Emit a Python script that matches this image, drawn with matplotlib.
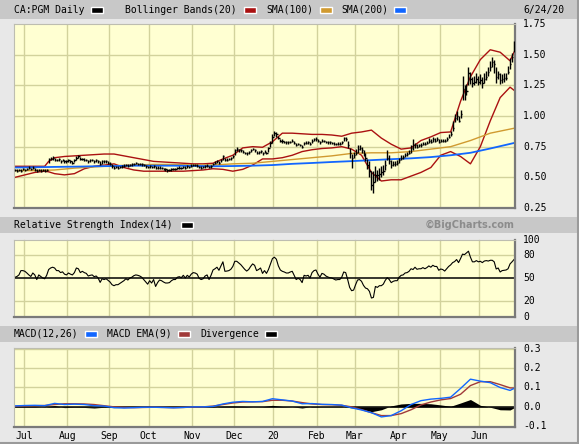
import matplotlib
matplotlib.use('Agg')
import matplotlib.pyplot as plt
import numpy as np
import pandas as pd
from matplotlib.patches import Rectangle
from matplotlib.lines import Line2D
import matplotlib.transforms as mtransforms

# ---------------- data ----------------
holidays = ['2019-07-01', '2019-08-05', '2019-09-02', '2019-10-14', '2019-12-25',
            '2019-12-26', '2020-01-01', '2020-02-17', '2020-04-10', '2020-05-18']
start_date = '2019-06-24'
end_date = '2020-06-24'

close = [
    0.56, 0.55, 0.56, 0.55, 0.57, 0.56, 0.57, 0.58, 0.57, 0.58,
    0.56, 0.55, 0.56, 0.55, 0.56, 0.55, 0.56, 0.65, 0.65, 0.66,
    0.64, 0.64, 0.65, 0.63, 0.64, 0.63, 0.63, 0.64, 0.63, 0.62,
    0.64, 0.66, 0.67, 0.65, 0.65, 0.64, 0.64, 0.63, 0.64, 0.64,
    0.63, 0.64, 0.63, 0.61, 0.63, 0.63, 0.63, 0.62, 0.61, 0.59,
    0.58, 0.585, 0.58, 0.585, 0.59, 0.595, 0.60, 0.595, 0.60, 0.605,
    0.61, 0.615, 0.61, 0.61, 0.605, 0.60, 0.59, 0.585, 0.59, 0.585,
    0.59, 0.575, 0.58, 0.58, 0.575, 0.57, 0.565, 0.56, 0.56, 0.565,
    0.57, 0.57, 0.575, 0.58, 0.575, 0.585, 0.58, 0.59, 0.585, 0.595,
    0.60, 0.60, 0.595, 0.585, 0.58, 0.585, 0.59, 0.595, 0.585, 0.59,
    0.61, 0.62, 0.63, 0.62, 0.64, 0.67, 0.645, 0.645, 0.65, 0.655,
    0.67, 0.72, 0.73, 0.725, 0.72, 0.71, 0.70, 0.695, 0.705, 0.72,
    0.73, 0.725, 0.70, 0.705, 0.715, 0.695, 0.71, 0.70, 0.74, 0.78,
    0.83, 0.86, 0.85, 0.82, 0.80, 0.795, 0.79, 0.785, 0.785, 0.79,
    0.795, 0.78, 0.765, 0.77, 0.765, 0.75, 0.78, 0.78, 0.785, 0.775,
    0.80, 0.81, 0.815, 0.80, 0.785, 0.80, 0.795, 0.79, 0.785, 0.785,
    0.78, 0.775, 0.77, 0.775, 0.775, 0.785, 0.82, 0.815, 0.76, 0.70,
    0.66, 0.68, 0.70, 0.73, 0.74, 0.72, 0.69, 0.66, 0.60, 0.55,
    0.44, 0.46, 0.52, 0.52, 0.53, 0.54, 0.55, 0.60, 0.66, 0.63,
    0.60, 0.61, 0.61, 0.62, 0.64, 0.66, 0.665, 0.68, 0.69, 0.70,
    0.74, 0.76, 0.76, 0.75, 0.76, 0.765, 0.775, 0.77, 0.78, 0.80,
    0.79, 0.81, 0.80, 0.81, 0.79, 0.80, 0.80, 0.795, 0.81, 0.83,
    0.85, 0.90, 0.98, 1.00, 0.96, 1.02, 1.22, 1.18, 1.20, 1.35,
    1.30, 1.27, 1.28, 1.30, 1.28, 1.29, 1.27, 1.30, 1.32, 1.36,
    1.40, 1.44, 1.42, 1.32, 1.34, 1.29, 1.30, 1.31, 1.31, 1.36,
    1.42, 1.48, 1.58]

high = [
    0.57, 0.565, 0.57, 0.565, 0.58, 0.57, 0.58, 0.59, 0.58, 0.59,
    0.575, 0.565, 0.57, 0.565, 0.57, 0.565, 0.57, 0.66, 0.665, 0.67,
    0.655, 0.65, 0.66, 0.645, 0.65, 0.645, 0.64, 0.65, 0.645, 0.635,
    0.65, 0.675, 0.685, 0.665, 0.66, 0.655, 0.65, 0.645, 0.65, 0.65,
    0.645, 0.65, 0.645, 0.63, 0.64, 0.64, 0.64, 0.635, 0.625, 0.61,
    0.59, 0.595, 0.59, 0.595, 0.60, 0.605, 0.61, 0.605, 0.61, 0.615,
    0.62, 0.625, 0.62, 0.62, 0.615, 0.61, 0.60, 0.595, 0.60, 0.595,
    0.60, 0.59, 0.59, 0.59, 0.585, 0.58, 0.575, 0.57, 0.57, 0.575,
    0.58, 0.58, 0.585, 0.59, 0.585, 0.595, 0.59, 0.60, 0.595, 0.605,
    0.61, 0.61, 0.605, 0.595, 0.59, 0.595, 0.60, 0.605, 0.595, 0.60,
    0.62, 0.63, 0.64, 0.635, 0.65, 0.68, 0.66, 0.655, 0.66, 0.665,
    0.68, 0.735, 0.745, 0.735, 0.73, 0.72, 0.71, 0.705, 0.715, 0.73,
    0.74, 0.735, 0.715, 0.715, 0.725, 0.71, 0.72, 0.71, 0.75, 0.80,
    0.85, 0.88, 0.87, 0.84, 0.815, 0.81, 0.80, 0.80, 0.795, 0.80,
    0.81, 0.795, 0.78, 0.78, 0.775, 0.765, 0.79, 0.795, 0.80, 0.79,
    0.81, 0.82, 0.825, 0.815, 0.80, 0.81, 0.805, 0.80, 0.795, 0.795,
    0.79, 0.785, 0.78, 0.785, 0.785, 0.80, 0.83, 0.83, 0.80, 0.74,
    0.69, 0.71, 0.73, 0.76, 0.76, 0.75, 0.72, 0.70, 0.65, 0.63,
    0.55, 0.55, 0.59, 0.56, 0.58, 0.59, 0.60, 0.64, 0.72, 0.68,
    0.64, 0.63, 0.63, 0.64, 0.66, 0.68, 0.685, 0.70, 0.705, 0.72,
    0.76, 0.81, 0.78, 0.77, 0.775, 0.78, 0.79, 0.79, 0.80, 0.82,
    0.81, 0.83, 0.82, 0.83, 0.81, 0.815, 0.815, 0.81, 0.83, 0.85,
    0.88, 0.96, 1.02, 1.04, 1.00, 1.05, 1.33, 1.25, 1.26, 1.40,
    1.36, 1.32, 1.33, 1.35, 1.33, 1.34, 1.32, 1.35, 1.37, 1.40,
    1.45, 1.48, 1.46, 1.40, 1.37, 1.35, 1.34, 1.35, 1.35, 1.41,
    1.47, 1.51, 1.61]

low = [
    0.55, 0.54, 0.55, 0.54, 0.56, 0.55, 0.56, 0.57, 0.56, 0.565,
    0.55, 0.54, 0.55, 0.54, 0.55, 0.54, 0.55, 0.62, 0.64, 0.645,
    0.63, 0.63, 0.635, 0.62, 0.63, 0.62, 0.62, 0.625, 0.62, 0.61,
    0.625, 0.645, 0.655, 0.64, 0.64, 0.63, 0.63, 0.62, 0.625, 0.63,
    0.62, 0.625, 0.62, 0.60, 0.61, 0.62, 0.62, 0.61, 0.60, 0.58,
    0.57, 0.575, 0.57, 0.575, 0.58, 0.585, 0.59, 0.585, 0.59, 0.595,
    0.60, 0.605, 0.60, 0.60, 0.595, 0.59, 0.58, 0.575, 0.58, 0.575,
    0.58, 0.565, 0.57, 0.57, 0.565, 0.56, 0.555, 0.545, 0.55, 0.555,
    0.56, 0.56, 0.565, 0.57, 0.565, 0.575, 0.57, 0.58, 0.575, 0.585,
    0.59, 0.59, 0.585, 0.575, 0.57, 0.575, 0.58, 0.585, 0.575, 0.58,
    0.60, 0.61, 0.62, 0.61, 0.625, 0.645, 0.635, 0.635, 0.64, 0.645,
    0.655, 0.68, 0.715, 0.71, 0.705, 0.70, 0.69, 0.685, 0.69, 0.705,
    0.72, 0.71, 0.69, 0.69, 0.70, 0.685, 0.695, 0.69, 0.71, 0.75,
    0.78, 0.84, 0.83, 0.81, 0.79, 0.78, 0.78, 0.775, 0.775, 0.78,
    0.785, 0.77, 0.755, 0.76, 0.755, 0.74, 0.76, 0.77, 0.775, 0.765,
    0.78, 0.795, 0.80, 0.79, 0.775, 0.785, 0.785, 0.78, 0.775, 0.775,
    0.77, 0.765, 0.76, 0.765, 0.765, 0.775, 0.80, 0.80, 0.74, 0.66,
    0.58, 0.66, 0.68, 0.70, 0.72, 0.70, 0.67, 0.63, 0.57, 0.50,
    0.40, 0.375, 0.46, 0.47, 0.48, 0.50, 0.52, 0.56, 0.64, 0.61,
    0.58, 0.59, 0.59, 0.60, 0.62, 0.64, 0.65, 0.665, 0.675, 0.69,
    0.70, 0.72, 0.74, 0.74, 0.745, 0.75, 0.76, 0.76, 0.77, 0.78,
    0.78, 0.79, 0.79, 0.80, 0.78, 0.79, 0.79, 0.785, 0.80, 0.82,
    0.84, 0.88, 0.95, 0.97, 0.95, 0.98, 1.13, 1.13, 1.17, 1.25,
    1.26, 1.24, 1.25, 1.27, 1.25, 1.26, 1.23, 1.27, 1.29, 1.33,
    1.37, 1.40, 1.35, 1.27, 1.30, 1.26, 1.27, 1.28, 1.29, 1.34,
    1.38, 1.44, 1.52]

# Bollinger bands (20), sampled by trading-day number
bb_day = [0, 5, 10, 15, 17, 20, 25, 30, 35, 40, 45, 50, 55, 60, 65, 70, 75, 80, 85, 90,
          95, 100, 105, 110, 115, 120, 125, 130, 135, 140, 145, 150, 155, 160, 165, 170,
          175, 180, 185, 190, 195, 200, 205, 210, 215, 220, 225, 230, 235, 240, 245, 250, 252]
bb_upper = [0.59, 0.59, 0.59, 0.59, 0.63, 0.66, 0.67, 0.675, 0.68, 0.685, 0.69, 0.69, 0.675,
            0.66, 0.645, 0.63, 0.625, 0.62, 0.615, 0.61, 0.61, 0.615, 0.65, 0.68, 0.74, 0.75,
            0.745, 0.79, 0.86, 0.86, 0.855, 0.85, 0.85, 0.845, 0.835, 0.86, 0.87, 0.885, 0.82,
            0.77, 0.73, 0.74, 0.80, 0.83, 0.865, 0.87, 1.12, 1.32, 1.46, 1.54, 1.52, 1.45, 1.52]
bb_lower = [0.50, 0.52, 0.54, 0.55, 0.545, 0.53, 0.52, 0.53, 0.57, 0.59, 0.60, 0.61, 0.58,
            0.56, 0.55, 0.55, 0.55, 0.55, 0.55, 0.555, 0.56, 0.57, 0.565, 0.55, 0.565, 0.60,
            0.65, 0.65, 0.66, 0.68, 0.71, 0.725, 0.735, 0.74, 0.75, 0.73, 0.68, 0.54, 0.47,
            0.48, 0.48, 0.51, 0.54, 0.58, 0.68, 0.71, 0.67, 0.61, 0.75, 0.96, 1.15, 1.235, 1.21]

# Simple moving averages
sma_day = [0, 10, 20, 30, 40, 50, 60, 70, 80, 90, 100, 110, 120, 130, 140, 150, 160, 170,
           180, 190, 200, 210, 220, 230, 240, 252]
sma100 = [0.555, 0.555, 0.56, 0.575, 0.585, 0.595, 0.60, 0.605, 0.605, 0.60, 0.60, 0.61,
          0.615, 0.63, 0.645, 0.66, 0.675, 0.695, 0.70, 0.70, 0.71, 0.73, 0.75, 0.80, 0.86, 0.90]
sma200 = [0.58, 0.582, 0.585, 0.587, 0.59, 0.592, 0.595, 0.595, 0.595, 0.593, 0.59, 0.592,
          0.595, 0.60, 0.61, 0.617, 0.625, 0.632, 0.64, 0.648, 0.655, 0.665, 0.68, 0.70, 0.735, 0.78]

# RSI(14), daily
rsi = [
    50.9, 52, 54, 59.6, 59.6, 58.7, 56.5, 54, 52, 56.5,
    54, 48, 54, 52, 50, 49, 53.5, 61, 63, 64,
    63, 59.6, 59.6, 57, 58, 55, 54, 56.5, 55, 54,
    57, 63, 62, 57, 58.7, 57, 56, 52.6, 53.5, 54,
    51.7, 52.6, 50, 44.3, 49, 48, 49, 47, 44.8, 41.3,
    40, 41.3, 41.3, 43, 44.8, 46.5, 49, 47.4, 50, 51,
    53, 54, 53.5, 52.6, 51, 48, 44.8, 42, 46.5, 43.5,
    48, 39, 44, 47.4, 46.5, 44.8, 43.5, 43.5, 44, 46.5,
    48, 48, 51, 51.7, 50.4, 53.5, 50, 53.5, 51.3, 55,
    57, 56.5, 55, 49.6, 48, 49, 52.6, 54, 48, 53.5,
    60.4, 62, 64, 60, 65.7, 71, 58.7, 59, 59.6, 61.3,
    65, 71.7, 71.7, 69.6, 67.4, 64.4, 61.3, 59, 61, 65,
    68.3, 66.5, 59.6, 61, 63, 56, 59.6, 56, 61, 68.3,
    75.2, 77, 74.4, 65.7, 60.4, 58.7, 57.8, 56.5, 56.5, 57.8,
    58.7, 53.5, 48, 49.6, 48, 44, 53.5, 52.6, 53.5, 50,
    57, 59.6, 60.4, 55, 51, 56, 55, 52.6, 51.3, 50.4,
    50, 48.7, 47.4, 48, 48, 51, 57.8, 57, 48, 37.8,
    33.5, 34.3, 41.3, 47.4, 48, 45.7, 40.4, 37, 36, 32.6,
    24, 24.8, 39, 37.8, 40, 40, 42, 47, 50.4, 48,
    44, 45.7, 46.5, 46.5, 51, 53.5, 54, 56.5, 57, 58.7,
    62, 61, 64, 61.3, 62, 62, 63.5, 62, 63.5, 65.7,
    64, 66.5, 65, 65, 60, 61.7, 61, 59, 62, 65,
    67, 70, 71.3, 74, 70, 75.2, 81, 80.4, 82.6, 84.8,
    77, 71, 71, 72.6, 71, 71.7, 70, 72, 72.6, 72,
    73, 73, 71, 61.7, 63, 57.8, 59.6, 60, 60.4, 62,
    68.3, 71, 74]

# MACD(12,26), EMA(9) and divergence, sampled by trading-day number
macd_day = [0, 5, 10, 15, 20, 25, 30, 35, 40, 45, 50, 55, 60, 65, 70, 75, 80, 85, 90, 95,
            100, 105, 110, 115, 120, 125, 130, 135, 140, 145, 150, 155, 160, 165, 170, 175,
            180, 185, 190, 195, 200, 205, 210, 215, 220, 225, 230, 235, 240, 245, 250, 252]
macd = [0.005, 0.007, 0.008, 0.006, 0.018, 0.012, 0.014, 0.012, 0.006, 0.004, -0.004, -0.006,
        -0.004, -0.002, -0.002, -0.003, -0.005, -0.003, 0.000, 0.000, 0.002, 0.015, 0.024,
        0.028, 0.026, 0.028, 0.042, 0.036, 0.030, 0.016, 0.017, 0.013, 0.012, 0.009, -0.005,
        -0.016, -0.030, -0.052, -0.045, -0.020, 0.012, 0.032, 0.040, 0.044, 0.050, 0.095,
        0.143, 0.133, 0.125, 0.100, 0.085, 0.095]
macd_ema = [0.003, 0.005, 0.006, 0.007, 0.012, 0.016, 0.016, 0.015, 0.012, 0.006, 0.000,
            -0.003, -0.004, -0.003, -0.002, -0.003, -0.004, -0.003, -0.001, 0.000, 0.004,
            0.012, 0.020, 0.025, 0.026, 0.027, 0.034, 0.034, 0.030, 0.022, 0.015, 0.012,
            0.011, 0.008, 0.000, -0.014, -0.030, -0.045, -0.045, -0.035, -0.015, 0.010,
            0.025, 0.036, 0.043, 0.065, 0.110, 0.130, 0.130, 0.115, 0.098, 0.097]
divergence = [0.002, 0.002, 0.002, -0.001, 0.006, -0.004, -0.002, -0.003, -0.006, -0.002,
              -0.004, -0.003, 0.000, 0.001, 0.000, 0.000, -0.001, 0.000, 0.001, 0.000, -0.002,
              0.003, 0.004, 0.003, 0.000, 0.001, 0.008, 0.002, 0.000, -0.006, 0.002, 0.001,
              0.001, 0.001, -0.005, -0.012, -0.025, -0.015, 0.005, 0.015, 0.018, 0.018, 0.016,
              0.010, 0.003, 0.020, 0.038, 0.008, -0.002, -0.015, -0.016, -0.005]

month_names = {7: 'Jul', 8: 'Aug', 9: 'Sep', 10: 'Oct', 11: 'Nov', 12: 'Dec', 1: '20',
               2: 'Feb', 3: 'Mar', 4: 'Apr', 5: 'May', 6: 'Jun'}
price_ticks = [0.25, 0.50, 0.75, 1.00, 1.25, 1.50, 1.75]
rsi_ticks = [0, 20, 50, 80, 100]
macd_ticks = [-0.1, 0.0, 0.1, 0.2, 0.3]

# ---------------- styling ----------------
W, H = 579, 444
BG = '#e8e8e8'
HEAD = '#c8c8c8'
PLOTBG = '#ffffd2'
GRID = '#d2d29c'
RED = '#aa1111'
ORANGE = '#d09a30'
BLUE = '#1166ff'
EMA_RED = '#a03a3a'
MONO = 'DejaVu Sans Mono'

dates = pd.bdate_range(start_date, end_date, freq='C', holidays=holidays)
n = len(dates)
days = np.arange(n)
month_starts = [i for i in range(1, n) if dates[i].month != dates[i - 1].month]

fig = plt.figure(figsize=(W / 100, H / 100), dpi=100, facecolor=BG)


def fax(x0, y0, x1, y1):
    return [x0 / W, 1 - y1 / H, (x1 - x0) / W, (y1 - y0) / H]


def band(y0, y1):
    fig.patches.append(Rectangle((0, 1 - y1 / H), 577 / W, (y1 - y0) / H,
                                 transform=fig.transFigure, facecolor=HEAD,
                                 edgecolor='none', zorder=0))


def swatch(x, y, color):
    fig.patches.append(Rectangle((x / W, 1 - (y + 3) / H), 12 / W, 6 / H,
                                 transform=fig.transFigure, facecolor=color,
                                 edgecolor='white', linewidth=1.0, zorder=3))


def ftext(x, y, s, **kw):
    kw.setdefault('family', MONO)
    kw.setdefault('fontsize', 7)
    kw.setdefault('va', 'center')
    fig.text(x / W, 1 - y / H, s, **kw)


band(0, 19)
band(217, 233)
band(326, 342)

# outer border
fig.lines.append(Line2D([577.5 / W, 577.5 / W], [0, 1], transform=fig.transFigure,
                        color='#9a9a9a', lw=1.5))
fig.lines.append(Line2D([0, 1], [1 - 442.5 / H, 1 - 442.5 / H], transform=fig.transFigure,
                        color='#9a9a9a', lw=1.5))

# headers
ftext(14, 10, 'CA:PGM Daily')
swatch(91, 10, 'black')
ftext(125, 10, 'Bollinger Bands(20)')
swatch(244, 10, RED)
ftext(266, 10, 'SMA(100)')
swatch(320, 10, ORANGE)
ftext(341, 10, 'SMA(200)')
swatch(394, 10, BLUE)
ftext(523, 10, '6/24/20')

ftext(14, 225, 'Relative Strength Index(14)')
swatch(181, 225, 'black')
fig.text(515 / W, 1 - 225 / H, '\u00a9BigCharts.com', family='DejaVu Sans',
         fontsize=7, fontweight='bold', color='#8c8c8c', ha='right', va='center')

ftext(14, 334, 'MACD(12,26)')
swatch(85, 334, BLUE)
ftext(107, 334, 'MACD EMA(9)')
swatch(178, 334, EMA_RED)
ftext(200, 334, 'Divergence')
swatch(265, 334, 'black')


def setup(ax, ylim, grid_y):
    ax.set_facecolor(PLOTBG)
    ax.set_xlim(-0.5, n - 0.5)
    ax.set_ylim(*ylim)
    ax.set_xticks([])
    ax.set_yticks([])
    for m in month_starts:
        ax.axvline(m - 0.5, color=GRID, lw=1.0, zorder=0.5)
    for g in grid_y:
        ax.axhline(g, color=GRID, lw=1.0, zorder=0.5)
    ax.spines['top'].set_color('#bdbdb0')
    ax.spines['left'].set_color('#bdbdb0')
    ax.spines['top'].set_linewidth(0.8)
    ax.spines['left'].set_linewidth(0.8)
    ax.spines['bottom'].set_color('#7a7a7a')
    ax.spines['right'].set_color('#7a7a7a')
    ax.spines['bottom'].set_linewidth(1.6)
    ax.spines['right'].set_linewidth(1.6)


def ylabels(ax, ticks, fmt):
    tr = mtransforms.blended_transform_factory(ax.transAxes, ax.transData)
    for t in ticks:
        ax.text(1 + 8 / 501, t, fmt(t), transform=tr, family=MONO, fontsize=7,
                va='center', ha='left', clip_on=False)


# ---------------- main price panel ----------------
ax = fig.add_axes(fax(14, 24, 515, 208))
setup(ax, (0.25, 1.75), [0.5, 0.75, 1.0, 1.25, 1.5])
ax.plot(bb_day, bb_upper, color=RED, lw=1.0, zorder=2)
ax.plot(bb_day, bb_lower, color=RED, lw=1.0, zorder=2)
ax.plot(sma_day, sma100, color=ORANGE, lw=1.0, zorder=2)
ax.plot(sma_day, sma200, color=BLUE, lw=1.3, zorder=2)
ax.vlines(days, low, high, color='black', lw=1.0, zorder=3)
ax.hlines(close, days, days + 0.6, color='black', lw=1.0, zorder=3)
ylabels(ax, price_ticks, lambda t: f'{t:.2f}')

# ---------------- RSI panel ----------------
ax2 = fig.add_axes(fax(14, 239.5, 515, 316.5))
setup(ax2, (0, 100), [20, 80])
ax2.axhline(50, color='black', lw=1.1, zorder=1)
ax2.plot(days, rsi, color='black', lw=0.8, zorder=2)
ylabels(ax2, rsi_ticks, lambda t: f'{t:d}')

# ---------------- MACD panel ----------------
ax3 = fig.add_axes(fax(14, 348, 515, 427))
setup(ax3, (-0.104, 0.304), [0.1, 0.2, 0.3])
ax3.fill_between(macd_day, 0, divergence, color='black', lw=0, zorder=1.5)
ax3.axhline(0, color='black', lw=1.1, zorder=1.6)
ax3.plot(macd_day, macd_ema, color=EMA_RED, lw=1.0, zorder=2)
ax3.plot(macd_day, macd, color=BLUE, lw=1.0, zorder=2.1)
ylabels(ax3, macd_ticks, lambda t: f'{t:.1f}')

tr3 = mtransforms.blended_transform_factory(ax3.transData, fig.transFigure)
for m in month_starts:
    ax3.text(m - 0.5, 1 - 436 / H, month_names[dates[m].month], transform=tr3,
             family=MONO, fontsize=7, ha='center', va='center', clip_on=False)

fig.savefig('out.png', dpi=100, facecolor=BG)
